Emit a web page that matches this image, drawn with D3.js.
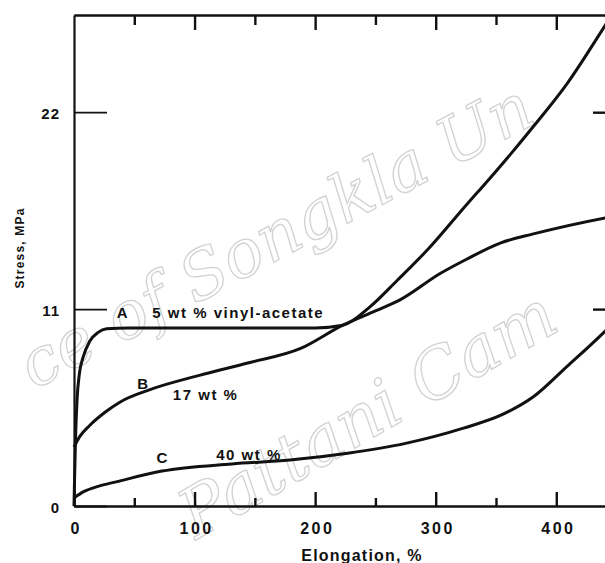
<!DOCTYPE html>
<html>
<head>
<meta charset="utf-8">
<script src="https://cdn.jsdelivr.net/npm/d3@7"></script>
<style>
  html, body { margin: 0; padding: 0; background: #fff; }
  svg { display: block; }
  text { font-family: "Liberation Sans", Arial, sans-serif; fill: #111; }
</style>
</head>
<body>
<svg id="chart" width="605" height="563"></svg>
<script>
// ---- data (elongation %, stress MPa) ----
const seriesA_x = [0, 0.5, 1.2, 2.5, 4.5, 7.5, 13, 20, 27, 45, 80, 120, 160, 200, 223, 245, 268, 293, 329, 337, 381, 409, 441, 457];
const seriesA_y = [0, 1.6, 3.6, 5.9, 7.4, 8.3, 9.2, 9.7, 9.9, 9.95, 9.95, 9.95, 9.95, 9.95, 10.1, 11.1, 12.6, 14.3, 17.1, 17.7, 21.2, 23.6, 26.9, 28.6];
const seriesB_x = [0, 5, 13, 26, 38, 63, 104, 145, 188, 223, 250, 270, 304, 326, 354, 381, 441, 457];
const seriesB_y = [3.3, 3.9, 4.5, 5.25, 5.8, 6.5, 7.3, 8.0, 8.8, 10.1, 10.9, 11.5, 13.0, 13.8, 14.7, 15.2, 16.1, 16.3];
const seriesC_x = [0, 8, 20, 35, 73, 131, 179, 227, 275, 323, 355, 381, 409, 441, 457];
const seriesC_y = [0.45, 0.8, 1.1, 1.35, 1.95, 2.35, 2.57, 2.95, 3.5, 4.35, 5.1, 6.1, 7.8, 9.8, 10.9];
const seriesLabels = ["A", "B", "C"];
const seriesTexts = ["5 wt % vinyl-acetate", "17 wt %", "40 wt %"];
const xMajorTicks = [0, 100, 200, 300, 400];
const xMinorTicks = [50, 150, 250, 350];
const yTicks = [0, 11, 22];
const xTitle = "Elongation, %";
const yTitle = "Stress, MPa";

// ---- layout ----
const svg = d3.select("#chart");
const x = d3.scaleLinear().domain([0, 457]).range([74, 625]);
const y = d3.scaleLinear().domain([0, 27.43]).range([506, 15]);

// watermark (faint outlined text)
const wm = svg.append("g");
wm.append("text")
  .attr("transform", "translate(34,390) rotate(-28)")
  .style("font-family", "'DejaVu Serif', 'Liberation Serif', serif").style("font-style", "italic")
  .style("font-size", "66px").style("fill", "none").style("stroke", "#d2d2d2").style("stroke-width", 1.3)
  .text("ce of Songkla Un");
wm.append("text")
  .attr("transform", "translate(196,540) rotate(-30)")
  .style("font-family", "'DejaVu Serif', 'Liberation Serif', serif").style("font-style", "italic")
  .style("font-size", "68px").style("fill", "none").style("stroke", "#d2d2d2").style("stroke-width", 1.3)
  .text("Pattani Cam");

function styleAxis(g) {
  g.select(".domain").attr("stroke", "#111").attr("stroke-width", 2.2);
  g.selectAll(".tick line").attr("stroke", "#111").attr("stroke-width", 2.4);
}

// bottom axis
const gxB = svg.append("g").attr("transform", `translate(0,${y(0)})`)
  .call(d3.axisBottom(x).tickValues(xMajorTicks).tickSize(-14).tickSizeOuter(0).tickFormat(d3.format("d")));
styleAxis(gxB);
gxB.selectAll(".tick text").attr("y", 17).attr("dy", "0.71em").attr("dx", "0.1em")
  .attr("font-size", 16).attr("font-weight", "bold").attr("letter-spacing", 2.5).attr("fill", "#111");
const gxBm = svg.append("g").attr("transform", `translate(0,${y(0)})`)
  .call(d3.axisBottom(x).tickValues(xMinorTicks).tickSize(-8).tickSizeOuter(0).tickFormat(""));
styleAxis(gxBm);

// top axis
const gxT = svg.append("g").attr("transform", `translate(0,${y.range()[1]})`)
  .call(d3.axisTop(x).tickValues(xMajorTicks.slice(1)).tickSize(-15).tickSizeOuter(0).tickFormat(""));
styleAxis(gxT);
const gxTm = svg.append("g").attr("transform", `translate(0,${y.range()[1]})`)
  .call(d3.axisTop(x).tickValues(xMinorTicks).tickSize(-10).tickSizeOuter(0).tickFormat(""));
styleAxis(gxTm);

// left axis
const gyL = svg.append("g").attr("transform", `translate(${x(0)},0)`)
  .call(d3.axisLeft(y).tickValues(yTicks).tickSize(-33).tickSizeOuter(0).tickFormat(d3.format("d")));
styleAxis(gyL);
gyL.selectAll(".tick line").attr("stroke-width", 1.8);
gyL.selectAll(".tick text").attr("x", -14).attr("dy", "0.4em").attr("font-size", 15)
  .attr("font-weight", "bold").attr("letter-spacing", 1).attr("fill", "#111");

// right axis
const gyR = svg.append("g").attr("transform", `translate(${x(457)},0)`)
  .call(d3.axisRight(y).tickValues(yTicks.slice(1)).tickSize(-32).tickSizeOuter(0).tickFormat(""));
styleAxis(gyR);

// curves
const line = d3.line().x(d => x(d[0])).y(d => y(d[1])).curve(d3.curveMonotoneX);
const series = [
  d3.zip(seriesA_x, seriesA_y),
  d3.zip(seriesB_x, seriesB_y),
  d3.zip(seriesC_x, seriesC_y)
];
svg.append("g").selectAll("path").data(series).join("path")
  .attr("d", line).attr("fill", "none").attr("stroke", "#111")
  .attr("stroke-width", 3).attr("stroke-linejoin", "round");

// series annotations (anchored at data coordinates)
const labelPos = [[40, 10.8], [57, 6.85], [73, 2.7]];
const textPos = [[65, 10.8], [82, 6.2], [118, 2.85]];
const ann = svg.append("g").attr("font-size", 15).attr("font-weight", "bold");
ann.selectAll("text.lab").data(seriesLabels).join("text").attr("class", "lab")
  .attr("x", (d, i) => x(labelPos[i][0])).attr("y", (d, i) => y(labelPos[i][1]))
  .attr("text-anchor", "middle").attr("dy", "0.35em").text(d => d);
ann.selectAll("text.txt").data(seriesTexts).join("text").attr("class", "txt")
  .attr("x", (d, i) => x(textPos[i][0])).attr("y", (d, i) => y(textPos[i][1]))
  .attr("dy", "0.35em").attr("letter-spacing", 1.5).text(d => d);

// axis titles
svg.append("text").attr("x", 362).attr("y", 555).attr("dy", "0.35em")
  .attr("text-anchor", "middle").attr("font-size", 16).attr("font-weight", "bold")
  .attr("letter-spacing", 1.2).text(xTitle);
svg.append("text").attr("transform", "translate(20,248) rotate(-90)").attr("dy", "0.35em")
  .attr("text-anchor", "middle").attr("font-size", 12).attr("font-weight", "bold")
  .attr("letter-spacing", 1.2).text(yTitle);
</script>
</body>
</html>
